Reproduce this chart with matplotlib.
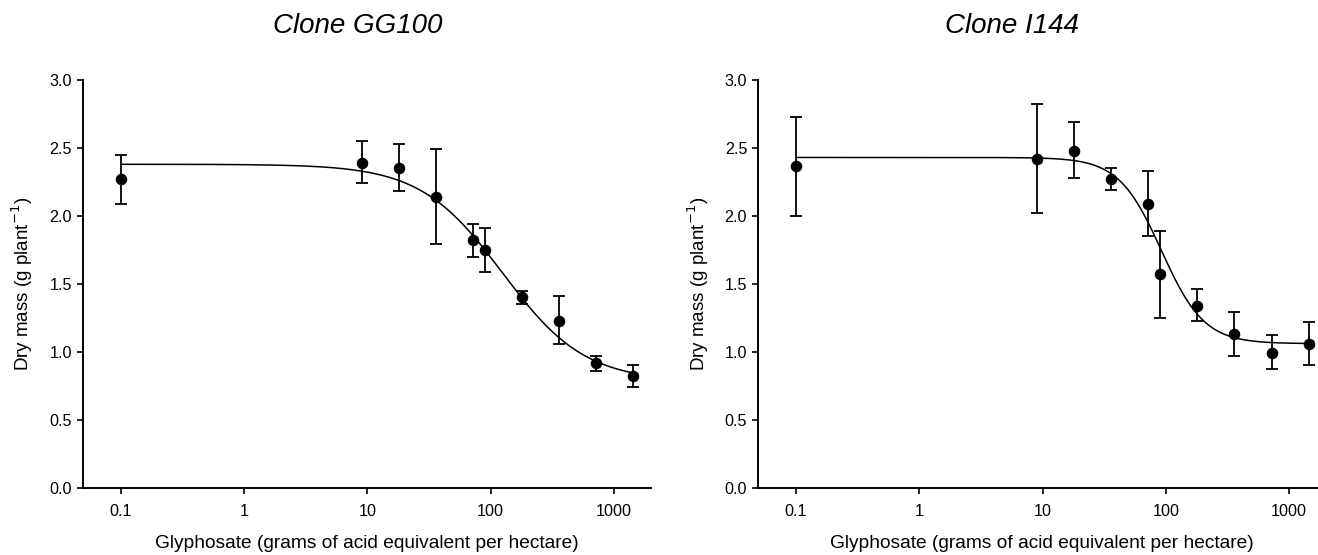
import numpy as np
import matplotlib
matplotlib.use("Agg")
import matplotlib.pyplot as plt

plt.rcParams['font.family'] = ['Liberation Sans', 'DejaVu Sans']

# Doses (g a.e. per hectare); control plotted at 0.1
doses = [0.1, 9, 18, 36, 72, 90, 180, 360, 720, 1440]

# Clone GG100
gg_mean = [2.27, 2.39, 2.35, 2.14, 1.82, 1.75, 1.40, 1.23, 0.92, 0.82]
gg_upper = [2.45, 2.55, 2.53, 2.49, 1.94, 1.91, 1.45, 1.41, 0.97, 0.90]
gg_lower = [2.09, 2.24, 2.18, 1.79, 1.70, 1.59, 1.35, 1.06, 0.86, 0.74]
# fitted log-logistic curve parameters (lower, upper, ED50, slope)
gg_fit = dict(c=0.78, d=2.38, e=125.0, b=1.3)

# Clone I144
i_mean = [2.37, 2.42, 2.48, 2.27, 2.09, 1.57, 1.34, 1.13, 0.99, 1.06]
i_upper = [2.73, 2.82, 2.69, 2.35, 2.33, 1.89, 1.46, 1.29, 1.12, 1.22]
i_lower = [2.00, 2.02, 2.28, 2.19, 1.85, 1.25, 1.23, 0.97, 0.87, 0.90]
i_fit = dict(c=1.06, d=2.43, e=92.0, b=2.5)

titles = ["Clone GG100", "Clone I144"]
xticks = [0.1, 1, 10, 100, 1000]
xticklabels = ["0.1", "1", "10", "100", "1000"]
yticks = [0.0, 0.5, 1.0, 1.5, 2.0, 2.5, 3.0]

W, H = 1318, 555
fig = plt.figure(figsize=(W / 100, H / 100), dpi=100)

panels = [
    (gg_mean, gg_upper, gg_lower, gg_fit, 83, 358),
    (i_mean, i_upper, i_lower, i_fit, 758.3, 1012),
]

for (mean, up, lo, fit, left_px, title_px), title in zip(panels, titles):
    ax = fig.add_axes([left_px / W, 1 - 487.7 / H, 568 / W, (487.7 - 80) / H])
    m = np.array(mean)
    yerr = [m - np.array(lo), np.array(up) - m]
    xc = np.logspace(np.log10(0.1), np.log10(1440), 400)
    yc = fit['c'] + (fit['d'] - fit['c']) / (1 + (xc / fit['e']) ** fit['b'])
    ax.plot(xc, yc, color='black', lw=1.1, zorder=2)
    ax.errorbar(doses, mean, yerr=yerr, fmt='o', color='black', ms=7.3,
                ecolor='black', elinewidth=1.3, capsize=4.5, capthick=1.3, zorder=3)
    ax.set_xscale('log')
    ax.set_xlim(0.0494, 2000)
    ax.set_ylim(0, 3.0)
    ax.set_xticks(xticks)
    ax.set_xticklabels(xticklabels)
    ax.xaxis.set_minor_locator(matplotlib.ticker.NullLocator())
    ax.set_yticks(yticks)
    ax.set_yticklabels([f"{v:.1f}" for v in yticks])
    for s in ['top', 'right']:
        ax.spines[s].set_visible(False)
    for s in ['left', 'bottom']:
        ax.spines[s].set_linewidth(1.4)
    ax.tick_params(axis='both', direction='out', length=4, width=1.2,
                   labelsize=11.6, pad=4)
    ax.tick_params(axis='x', pad=8)
    ax.set_xlabel("Glyphosate (grams of acid equivalent per hectare)",
                  fontsize=13.8, labelpad=11)
    ax.set_ylabel("Dry mass (g plant$^{-1}$)", fontsize=13.5, labelpad=10)
    fig.text(title_px / W, 1 - 26 / H, title, fontsize=20, style='italic',
             ha='center', va='center')

fig.savefig("out.png", dpi=100)
